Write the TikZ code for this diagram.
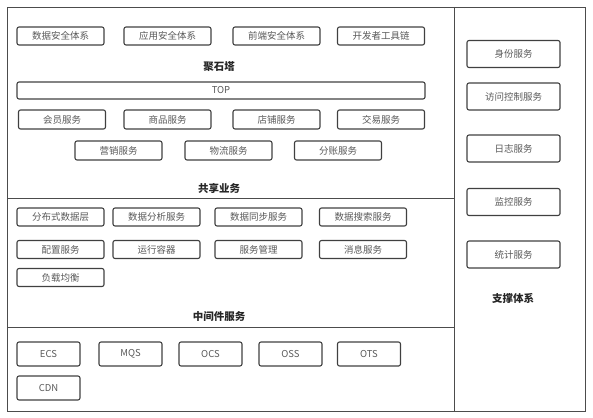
\documentclass[tikz,border=0pt]{standalone}
\usepackage{fontspec}
\setmainfont{Noto Sans CJK SC}
\usepackage{tikz}
\usetikzlibrary{positioning}

\begin{document}
\begin{tikzpicture}[
    x=1pt, y=-1pt,
    frame/.style={draw=black!70, line width=0.9pt},
    svc/.style={draw=black!75, line width=1.1pt, rounded corners=2pt,
                inner sep=0pt, minimum width=87pt, minimum height=18pt,
                text=black!65, font=\fontsize{9.5}{10}\selectfont},
    cloud/.style={svc, minimum width=63pt, minimum height=24pt},
    side/.style={svc, minimum width=93pt, minimum height=27pt},
    title/.style={font=\fontsize{10.5}{12}\selectfont\bfseries, text=black!85},
  ]
  \useasboundingbox (0,0) rectangle (593,417);

  % frames
  \draw[frame] (7,7) rectangle (585,411);
  \draw[frame] (454,7) -- (454,411);
  \draw[frame] (7,198) -- (454,198);
  \draw[frame] (7,327) -- (454,327);

  % 聚石塔
  \node[svc] (sec1) at (60.5, 36) {数据安全体系};
  \node[svc] (sec2) at (167.5, 36) {应用安全体系};
  \node[svc] (sec3) at (276.5, 36) {前端安全体系};
  \node[svc] (tool) at (381, 36) {开发者工具链};
  \node[title] (jst) at (219, 67) {聚石塔};
  \node[svc, minimum width=408pt, minimum height=17pt] (top) at (221, 90.5) {TOP};

  % 共享业务
  \node[svc, minimum height=19pt] (member) at (62, 119.5) {会员服务};
  \node[svc, minimum height=19pt] (goods)  at (167.5, 119.5) {商品服务};
  \node[svc, minimum height=19pt] (shop)   at (276.5, 119.5) {店铺服务};
  \node[svc, minimum height=19pt] (trade)  at (381, 119.5) {交易服务};
  \node[svc, minimum height=19pt] (market) at (118.5, 150.5) {营销服务};
  \node[svc, minimum height=19pt] (logis)  at (228.5, 150.5) {物流服务};
  \node[svc, minimum height=19pt] (split)  at (338, 150.5) {分账服务};
  \node[title] (share) at (219, 188) {共享业务};

  % 中间件服务
  \node[svc] (ddl)    at (60.5, 217) {分布式数据层};
  \node[svc] (dana)   at (156.5, 217) {数据分析服务};
  \node[svc] (dsync)  at (258.5, 217) {数据同步服务};
  \node[svc] (dsrch)  at (363, 217) {数据搜索服务};
  \node[svc] (conf)   at (60.5, 249.5) {配置服务};
  \node[svc] (runc)   at (156.5, 249.5) {运行容器};
  \node[svc] (smgr)   at (258.5, 249.5) {服务管理};
  \node[svc] (msg)    at (363, 249.5) {消息服务};
  \node[svc] (lb)     at (60.5, 277.5) {负载均衡};
  \node[title] (mid) at (219, 317) {中间件服务};

  % cloud products
  \node[cloud] (ecs) at (48.5, 354) {ECS};
  \node[cloud] (mqs) at (130.5, 354) {MQS};
  \node[cloud] (ocs) at (210.5, 354) {OCS};
  \node[cloud] (oss) at (290.5, 354) {OSS};
  \node[cloud] (ots) at (369, 354) {OTS};
  \node[cloud] (cdn) at (48.5, 388) {CDN};

  % 支撑体系
  \node[side] (ident) at (513.5, 54) {身份服务};
  \node[side] (acl)   at (513.5, 96.5) {访问控制服务};
  \node[side] (log)   at (513.5, 148.5) {日志服务};
  \node[side] (mon)   at (513.5, 202) {监控服务};
  \node[side] (stat)  at (513.5, 254.5) {统计服务};
  \node[title] (supp) at (513, 298) {支撑体系};
\end{tikzpicture}
\end{document}
